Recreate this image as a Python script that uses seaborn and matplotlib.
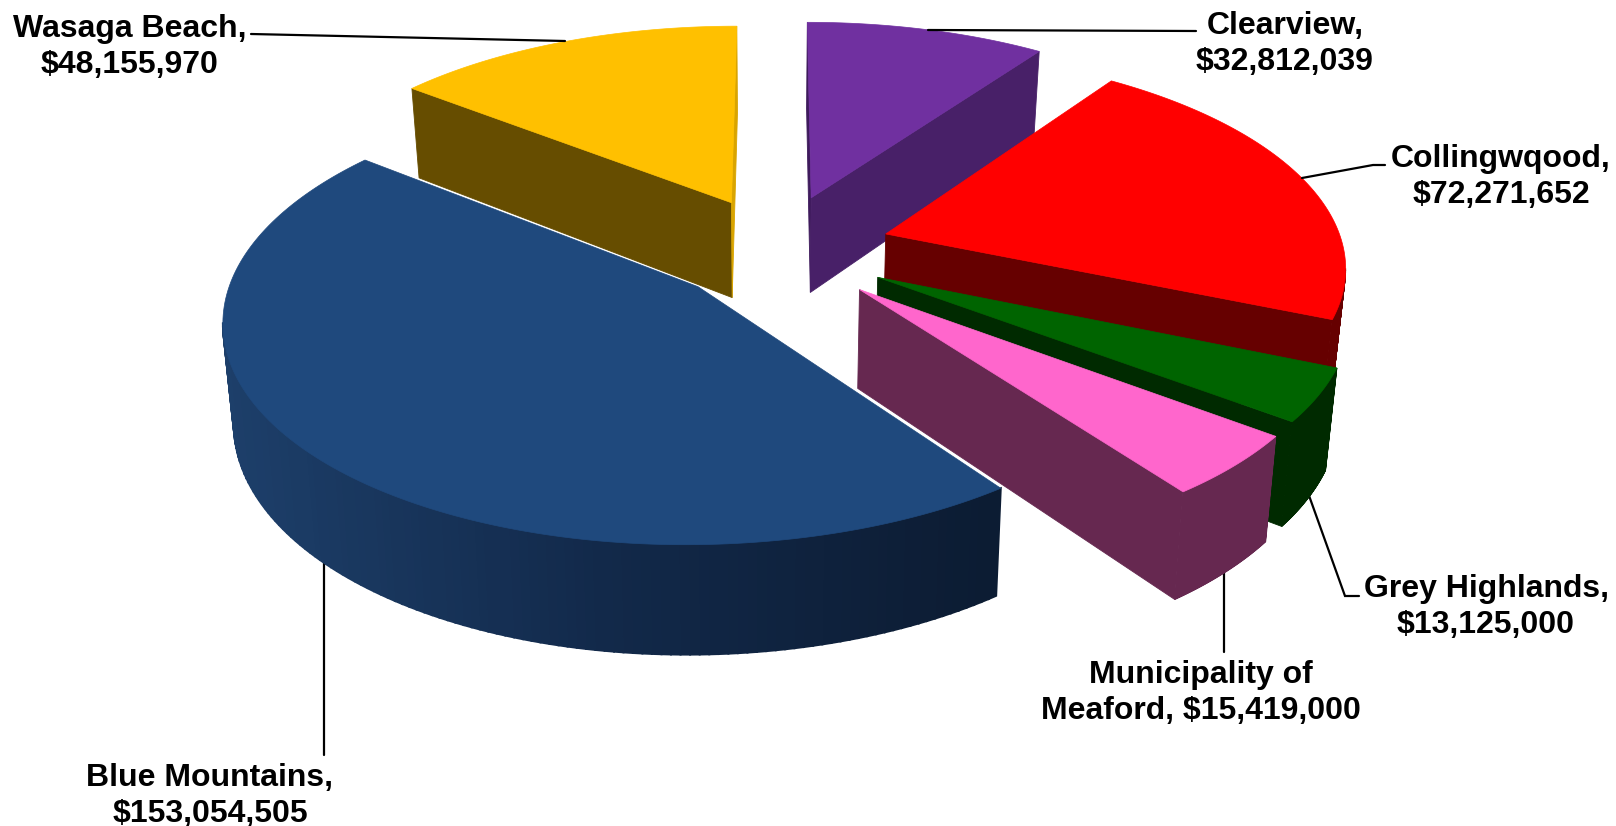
import numpy as np
import matplotlib
matplotlib.use("Agg")
import matplotlib.pyplot as plt
import seaborn as sns

# --- data (clockwise from 12 o'clock) ---
municipalities = ["Clearview", "Collingwqood", "Grey Highlands", "Municipality of\nMeaford", "Blue Mountains", "Wasaga Beach"]
amounts = [32812039, 72271652, 13125000, 15419000, 153054505, 48155970]
top_colors = ["#7030A0", "#FF0000", "#006400", "#FF66CC", "#1F497D", "#FFC000"]
wall_colors = ["#482068", "#660000", "#002A00", "#662850", "#0E1F38", "#664D00"]
strip_colors = ["#3E1A5C", "#660000", "#002A00", "#662850", "#0E1F38", "#D9A400"]
paint_order = [0, 5, 1, 2, 3, 4]

# --- layout ---
label_sep = [",\n", ",\n", ",\n", ", ", ",\n", ",\n"]
label_xy = [(1285, 44), (1501, 177), (1486, 607), (1201, 693), (210, 796), (130, 47)]
leaders = [
    [(1196, 31), (928, 30)],
    [(1385, 165), (1373, 165), (1302, 178)],
    [(1359, 596), (1345, 596), (1307, 490)],
    [(1224, 652), (1224, 560)],
    [(324, 755), (324, 545)],
    [(251, 34), (565, 41)],
]
leader_z = [100, 100, -1, -1, -1, 100]
CX, CY, A, B, K, H, K_WALL = 778, 249, 458, 212, 0.135, 97, 0.10
EX = [0.247, 0.247, 0.247, 0.247, 0.237, 0.24]
EY = [0.262, 0.262, 0.262, 0.262, 0.25, 0.25]
VX, TAPER = 770, 0.02

sns.set_theme(style="white")
plt.rcParams["font.family"] = ["Liberation Sans", "DejaVu Sans"]
fig = plt.figure(figsize=(16.16, 8.26), dpi=100, facecolor="white")
ax = fig.add_axes([0, 0, 1, 1])
ax.set_xlim(0, 1616)
ax.set_ylim(826, 0)
ax.axis("off")


def project(X, Y, bottom=False):
    X, Y = np.asarray(X, float), np.asarray(Y, float)
    w = 1 + K * Y
    sx = CX + A * X / w
    sy = CY - B * Y / w
    if bottom:
        sx = sx - TAPER * (sx - VX)
        sy = sy + H / (1 + K_WALL * Y)
    return sx, sy


def wall(px, py, color, z, lw=0.6):
    bx, by = project(px, py, bottom=True)
    tx, ty = project(px, py)
    ax.fill(np.r_[tx, bx[::-1]], np.r_[ty, by[::-1]], color=color, lw=lw, zorder=z)


fractions = np.array(amounts, float) / np.sum(amounts)
edges = np.r_[0, np.cumsum(fractions)] * 2 * np.pi
blue_ramp = sns.blend_palette(["#0C1C33", "#12294A", "#1D3F6A"], 80)

for layer, i in enumerate(paint_order):
    t0, t1 = edges[i], edges[i + 1]
    mid = (t0 + t1) / 2
    ox, oy = EX[i] * np.sin(mid), EY[i] * np.cos(mid)
    th = np.linspace(t0, t1, 161)
    ux, uy = ox + np.sin(th), oy + np.cos(th)
    z = layer * 10
    # a radial face shows when the clockwise outline runs right to left on screen
    for (ax_pt, ay_pt), (bx_pt, by_pt) in [((ox, oy), (ux[0], uy[0])), ((ux[-1], uy[-1]), (ox, oy))]:
        sx, _ = project([ax_pt, bx_pt], [ay_pt, by_pt])
        if sx[1] < sx[0]:
            col = strip_colors[i] if abs(sx[1] - sx[0]) < 30 else wall_colors[i]
            wall(np.array([ax_pt, bx_pt]), np.array([ay_pt, by_pt]), col, z)
    # rim faces
    sx, _ = project(ux, uy)
    for j in range(len(th) - 1):
        if sx[j + 1] < sx[j]:
            if i == 4:
                f = (sx[j] - 230) / 760
                col = blue_ramp[int(np.clip(79 * (1 - f), 0, 79))]
                wall(ux[j:j + 2], uy[j:j + 2], col, z + 1, lw=1.4)
            else:
                wall(ux[j:j + 2], uy[j:j + 2], wall_colors[i], z + 1)
    # top face
    tx, ty = project(np.r_[ox, ux], np.r_[oy, uy])
    ax.fill(tx, ty, color=top_colors[i], lw=0.5, zorder=z + 2)

for pts, zl in zip(leaders, leader_z):
    xs, ys = zip(*pts)
    ax.plot(xs, ys, color="black", lw=1.6, zorder=zl, solid_joinstyle="miter")

for name, amt, sep, (x, y) in zip(municipalities, amounts, label_sep, label_xy):
    ax.text(x, y, f"{name}{sep}${amt:,}", ha="center", va="center", fontsize=23,
            fontweight="bold", color="black", linespacing=1.24, zorder=101)

sns.despine(ax=ax, left=True, bottom=True)
fig.savefig("out.png", dpi=100)
